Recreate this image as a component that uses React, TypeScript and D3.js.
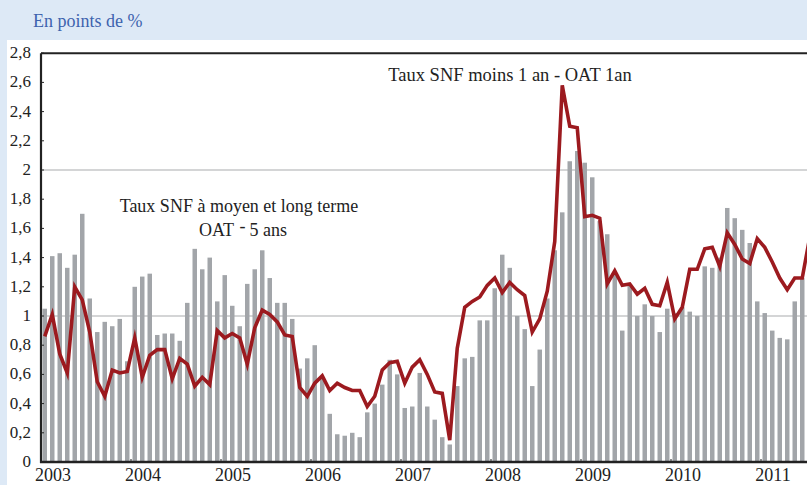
import React from "react";
import * as d3 from "d3";

const W = 807;
const H = 485;

const years = ["2003", "2004", "2005", "2006", "2007", "2008", "2009", "2010", "2011"];
const yTicks = [0, 0.2, 0.4, 0.6, 0.8, 1, 1.2, 1.4, 1.6, 1.8, 2, 2.2, 2.4, 2.6, 2.8];
const gridValues = [1, 2];

// Monthly bars: Taux SNF à moyen et long terme - OAT 5 ans (Jan 2003 ...)
const barsMLT = [
  1.05, 1.41, 1.43, 1.33, 1.42, 1.70, 1.12, 0.89, 0.96, 0.93, 0.98, 0.69,
  1.20, 1.27, 1.29, 0.87, 0.88, 0.88, 0.83, 1.09, 1.46, 1.32, 1.40, 1.10,
  1.28, 1.07, 0.93, 1.22, 1.32, 1.45, 1.26, 1.09, 1.09, 0.98, 0.64, 0.71,
  0.80, 0.57, 0.33, 0.19, 0.18, 0.20, 0.17, 0.34, 0.40, 0.53, 0.70, 0.60,
  0.37, 0.38, 0.61, 0.38, 0.29, 0.17, 0.12, 0.52, 0.71, 0.72, 0.97, 0.97,
  1.19, 1.42, 1.33, 1.00, 0.91, 0.52, 0.77, 1.12, 1.45, 1.71, 2.06, 2.13,
  2.05, 1.95, 1.65, 1.56, 1.30, 0.90, 1.21, 1.00, 1.08, 1.00, 0.89, 1.05,
  1.02, 1.06, 1.03, 1.00, 1.34, 1.33, 1.40, 1.74, 1.67, 1.59, 1.50, 1.10,
  1.02, 0.90, 0.85, 0.84, 1.10, 1.26, 1.35,
];

// Monthly line: Taux SNF moins 1 an - OAT 1 an
const lineCT = [
  0.86, 1.01, 0.74, 0.61, 1.20, 1.11, 0.89, 0.55, 0.45, 0.63, 0.61, 0.62,
  0.85, 0.58, 0.73, 0.77, 0.77, 0.57, 0.71, 0.67, 0.52, 0.58, 0.53, 0.90,
  0.85, 0.88, 0.85, 0.67, 0.92, 1.04, 1.01, 0.96, 0.87, 0.86, 0.51, 0.45,
  0.54, 0.59, 0.49, 0.54, 0.51, 0.49, 0.49, 0.38, 0.45, 0.63, 0.68, 0.69,
  0.54, 0.65, 0.70, 0.60, 0.48, 0.47, 0.15, 0.78, 1.06, 1.10, 1.13, 1.21,
  1.26, 1.16, 1.23, 1.18, 1.14, 0.89, 0.98, 1.17, 1.51, 2.58, 2.30, 2.29,
  1.68, 1.69, 1.67, 1.22, 1.31, 1.21, 1.22, 1.15, 1.19, 1.08, 1.07, 1.23,
  0.98, 1.06, 1.32, 1.32, 1.46, 1.47, 1.34, 1.57, 1.49, 1.39, 1.36, 1.53,
  1.47, 1.37, 1.26, 1.18, 1.26, 1.26, 1.54,
];

const fmt = (v: number) => String(Math.round(v * 10) / 10).replace(".", ",");

const FONT = '"Liberation Serif", "DejaVu Serif", "Times New Roman", Times, serif';

export default function App() {
  const left = 41;
  const step = 7.5;
  const n = barsMLT.length;
  const idx = d3.range(n);
  const x = d3
    .scaleBand<number>()
    .domain(idx)
    .range([left, left + step * n])
    .paddingInner(0.4)
    .paddingOuter(0.2);
  const xm = d3.scaleLinear().domain([0, n]).range([left, left + step * n]);
  const y = d3.scaleLinear().domain([0, 2.8]).range([462, 53.2]);
  const cx = (i: number) => (x(i) as number) + x.bandwidth() / 2;

  const line = d3
    .line<number>()
    .x((_, i) => cx(i))
    .y((d) => y(d));

  const ts = { fontFamily: FONT };

  return (
    <svg
      width={W}
      height={H}
      style={{ position: "absolute", left: 0, top: 0, background: "#fff" }}
    >
      {/* frame band */}
      <rect x={0} y={0} width={W} height={40} fill="#dde9f6" />
      <rect x={0} y={0} width={7} height={H} fill="#dde9f6" />
      <text x={33} y={27} fontSize={18} fill="#3d63ae" style={ts}>
        En points de %
      </text>

      {/* gridlines */}
      {gridValues.map((g) => (
        <line key={g} x1={left} x2={W} y1={y(g)} y2={y(g)} stroke="#c6c7c9" strokeWidth={1.6} />
      ))}

      {/* bars */}
      {barsMLT.map((v, i) => (
        <rect key={i} x={x(i)} y={y(v)} width={x.bandwidth()} height={y(0) - y(v)} fill="#a2a5a9" />
      ))}

      {/* line */}
      <path
        d={line(lineCT) || ""}
        fill="none"
        stroke="#9c1a1f"
        strokeWidth={3.6}
        strokeLinejoin="miter"
        strokeMiterlimit={6}
      />

      {/* axes */}
      <line x1={left} x2={W} y1={y(2.8)} y2={y(2.8)} stroke="#222" strokeWidth={2} />
      <line x1={left} x2={left} y1={y(2.8)} y2={y(0) + 1} stroke="#222" strokeWidth={2.2} />
      <line x1={left - 1} x2={W} y1={y(0)} y2={y(0)} stroke="#222" strokeWidth={2.6} />
      {yTicks.map((t) => (
        <g key={t}>
          <line x1={left} x2={left + 3} y1={y(t)} y2={y(t)} stroke="#222" strokeWidth={1} />
          <text x={31} y={y(t) + 5} fontSize={17} textAnchor="end" fill="#222" style={ts}>
            {fmt(t)}
          </text>
        </g>
      ))}
      {years.map((yr, k) => {
        const tx = xm(k * 12);
        return (
          <g key={yr}>
            <line x1={tx} x2={tx} y1={y(0)} y2={y(0) - 3} stroke="#222" strokeWidth={1} />
            <text x={tx + 12} y={481} fontSize={18} textAnchor="middle" fill="#222" style={ts}>
              {yr}
            </text>
          </g>
        );
      })}

      {/* annotations */}
      <text x={510} y={81} fontSize={18.5} textAnchor="middle" fill="#222" style={ts}>
        Taux SNF moins 1 an - OAT 1an
      </text>
      <text x={239} y={212} fontSize={18} textAnchor="middle" fill="#222" style={ts}>
        Taux SNF à moyen et long terme
      </text>
      <text x={243} y={236} fontSize={18} textAnchor="middle" fill="#222" style={ts}>
        OAT
        <tspan dx={7} dy={-4}>-</tspan>
        <tspan dx={4} dy={4}>5 ans</tspan>
      </text>
    </svg>
  );
}
